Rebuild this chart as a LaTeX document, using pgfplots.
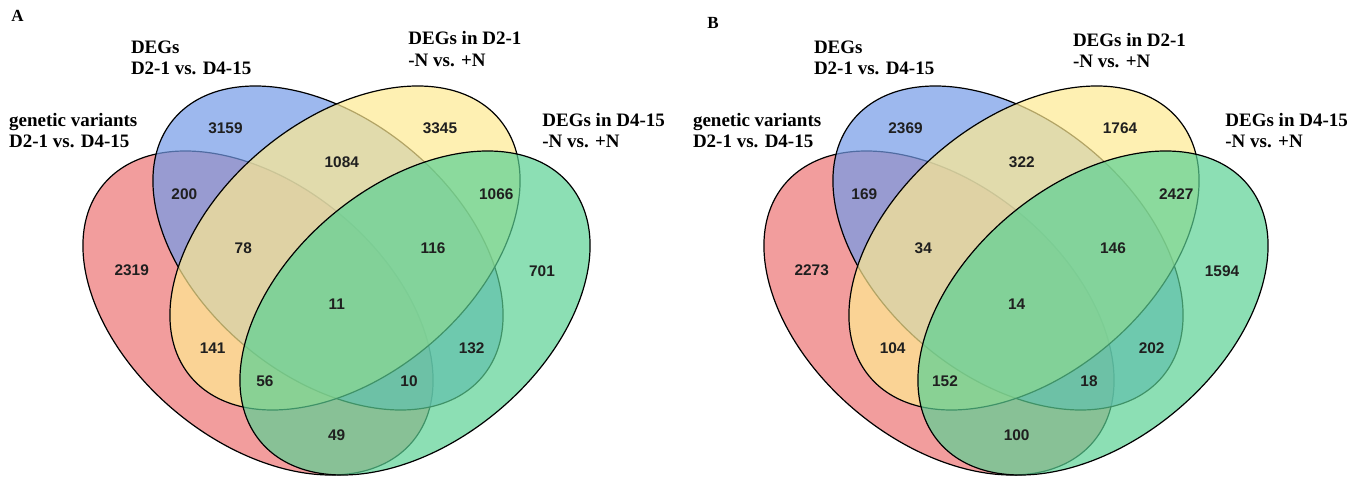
\documentclass[border=0pt]{standalone}
\usepackage{pgfplots}
\usepackage{pgfplotstable}
\pgfplotsset{compat=1.18}
\usepackage{fontspec}
\setmainfont{Liberation Serif}
\newfontfamily\numfont{Liberation Sans}
\definecolor{vred}{RGB}{236,116,116}
\definecolor{vblue}{RGB}{115,154,231}
\definecolor{vyellow}{RGB}{254,234,145}
\definecolor{vgreen}{RGB}{91,209,148}

% region counts, panel A (x, y in picture units)
\pgfplotstableread{
x y label
225.5 349 3159
440 349 3345
341.8 315 1084
184.3 282.7 200
496.3 283 1066
243.3 228.7 78
433 228.7 116
131.7 206.3 2319
542 206 701
336.7 173 11
212.7 128.7 141
471.7 128.7 132
265 96.3 56
409 96.3 10
336.7 42 49
}\countsA
% region counts, panel B
\pgfplotstableread{
x y label
905.5 349 2369
1120 349 1764
1021.8 315 322
864.3 282.7 169
1176.3 283 2427
923.3 228.7 34
1113 228.7 146
811.7 206.3 2273
1222 206 1594
1016.7 173 14
892.7 128.7 104
1151.7 128.7 202
945 96.3 152
1089 96.3 18
1016.7 42 100
}\countsB

\newcommand{\vell}[4]{% color, cx, cy, angle
  \draw[black, line width=0.6pt, fill=#1, fill opacity=0.7,
        rotate around={#4:(axis cs:#2,#3)}]
        (axis cs:#2,#3) ellipse [x radius=100.5pt, y radius=64.2pt];}

\tikzset{lab/.style={anchor=base west, inner sep=0pt,
  font=\bfseries\fontsize{9.5}{11}\selectfont}}

\begin{document}
\begin{tikzpicture}
\begin{axis}[scale only axis, width=683pt, height=238.5pt,
  xmin=0, xmax=1366, ymin=0, ymax=477, hide axis, clip=false]
% panel A
\vell{vred}{258}{164}{140.3}
\vell{vblue}{328}{229}{140.3}
\vell{vyellow}{345}{229}{39.7}
\vell{vgreen}{415}{164}{39.7}
% panel B
\vell{vred}{939}{164}{140.3}
\vell{vblue}{1008}{229}{140.3}
\vell{vyellow}{1024}{229}{39.7}
\vell{vgreen}{1093}{164}{39.7}

\addplot[draw=none, mark=none, nodes near coords, point meta=explicit symbolic,
  every node near coord/.append style={anchor=center, inner sep=0pt,
    font=\numfont\bfseries\fontsize{7.7}{9}\selectfont, text=black!88}]
  table[x=x, y=y, meta=label] {\countsA};
\addplot[draw=none, mark=none, nodes near coords, point meta=explicit symbolic,
  every node near coord/.append style={anchor=center, inner sep=0pt,
    font=\numfont\bfseries\fontsize{7.7}{9}\selectfont, text=black!88}]
  table[x=x, y=y, meta=label] {\countsB};

% labels A
\node[lab, font=\bfseries\fontsize{8.5}{9}\selectfont] at (axis cs:11,455.3) {A};
\node[lab] at (axis cs:130.6,423.7) {DEGs};
\node[lab] at (axis cs:130.6,402) {D2-1 vs. D4-15};
\node[lab] at (axis cs:408,432) {DEGs in D2-1};
\node[lab] at (axis cs:408,410.3) {-N vs. +N};
\node[lab] at (axis cs:8.7,350.3) {genetic variants};
\node[lab] at (axis cs:8.7,329) {D2-1 vs. D4-15};
\node[lab] at (axis cs:542,350.3) {DEGs in D4-15};
\node[lab] at (axis cs:542,329) {-N vs. +N};
% labels B
\node[lab, font=\bfseries\fontsize{8.5}{9}\selectfont] at (axis cs:707,448) {B};
\node[lab] at (axis cs:813.6,423.7) {DEGs};
\node[lab] at (axis cs:813.6,402) {D2-1 vs. D4-15};
\node[lab] at (axis cs:1072.6,430.3) {DEGs in D2-1};
\node[lab] at (axis cs:1072.6,409) {-N vs. +N};
\node[lab] at (axis cs:692.6,350.3) {genetic variants};
\node[lab] at (axis cs:692.6,329) {D2-1 vs. D4-15};
\node[lab] at (axis cs:1225,350.3) {DEGs in D4-15};
\node[lab] at (axis cs:1225,329) {-N vs. +N};
\end{axis}
\pgfresetboundingbox
\path (current axis.south west) rectangle (current axis.north east);
\end{tikzpicture}
\end{document}
